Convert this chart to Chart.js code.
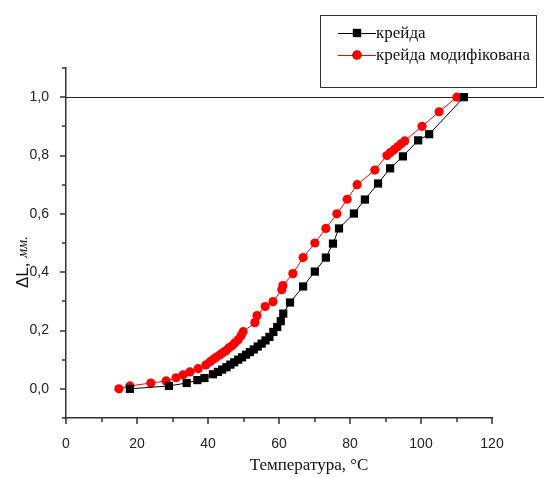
<!DOCTYPE html>
<html>
<head>
<meta charset="utf-8">
<script src="https://cdn.jsdelivr.net/npm/chart.js@4/dist/chart.umd.min.js"></script>
<style>
  html, body { margin: 0; padding: 0; background: #fff; }
  #wrap { width: 544px; height: 477px; }
</style>
</head>
<body>
<div id="wrap"><canvas id="chart" width="544" height="477"></canvas></div>
<script>
// крейда
const kreidaT = [18, 29, 34, 37, 39, 41.4, 42.8, 44, 45.2, 46.3, 47.4, 48.5, 49.6, 50.7, 51.8, 52.9, 54, 55.1, 56.2, 57.3, 58.4, 59.5, 60.5, 61.2, 63.1, 66.8, 70.1, 73.2, 75.2, 76.9, 81.1, 84.2, 87.9, 91.3, 94.9, 99.2, 102.3, 112.1];
const kreidaDL = [0.0, 0.01, 0.02, 0.03, 0.037, 0.05, 0.058, 0.066, 0.074, 0.083, 0.091, 0.1, 0.108, 0.117, 0.126, 0.135, 0.145, 0.155, 0.166, 0.178, 0.195, 0.212, 0.232, 0.258, 0.296, 0.351, 0.402, 0.45, 0.498, 0.55, 0.601, 0.649, 0.704, 0.756, 0.797, 0.852, 0.873, 1.0];
// крейда модифікована
const modT = [14.9, 18, 23.9, 28.2, 31, 33, 34.9, 37.2, 39.4, 40.6, 41.7, 42.5, 43.4, 44.2, 45.1, 45.9, 46.8, 47.6, 48.5, 49.3, 49.9, 53.2, 53.8, 56.1, 58.3, 60.8, 61.1, 63.9, 66.8, 70.1, 73.2, 76.3, 79.2, 82, 87, 90.4, 91.4, 92.4, 93.4, 94.4, 95.4, 100.3, 105.1, 110.1];
const modDL = [0.0, 0.01, 0.02, 0.027, 0.038, 0.048, 0.058, 0.069, 0.082, 0.093, 0.103, 0.11, 0.117, 0.124, 0.131, 0.141, 0.148, 0.158, 0.168, 0.182, 0.196, 0.227, 0.251, 0.282, 0.299, 0.34, 0.354, 0.395, 0.45, 0.5, 0.55, 0.6, 0.65, 0.7, 0.75, 0.8, 0.81, 0.82, 0.83, 0.84, 0.85, 0.9, 0.95, 1.0];

const xTicksLabelled = [0, 20, 40, 60, 80, 100, 120];
const yTicksLabelled = [0.0, 0.2, 0.4, 0.6, 0.8, 1.0];
const seriesNames = ['крейда', 'крейда модифікована'];
const refValue = 1.0;

const toPoints = (xs, ys) => xs.map((x, i) => ({ x: x, y: ys[i] }));

const tickFont = { family: 'Liberation Sans, Arial, sans-serif', size: 14 };

// horizontal line at 1,0 running to the edge of the picture
const refLine = {
  id: 'refLine',
  beforeDatasetsDraw(chart) {
    const ctx = chart.ctx;
    const y = chart.scales.y.getPixelForValue(refValue);
    ctx.save();
    ctx.strokeStyle = '#222';
    ctx.lineWidth = 1;
    ctx.beginPath();
    ctx.moveTo(chart.chartArea.left, Math.round(y) + 0.5);
    ctx.lineTo(chart.width, Math.round(y) + 0.5);
    ctx.stroke();
    ctx.restore();
  }
};

// outward ticks, long on labelled values, short in between
const axisTicks = {
  id: 'axisTicks',
  afterDraw(chart) {
    const ctx = chart.ctx;
    const xs = chart.scales.x, ys = chart.scales.y;
    ctx.save();
    ctx.strokeStyle = '#333';
    ctx.lineWidth = 1.5;
    ctx.beginPath();
    xs.ticks.forEach(t => {
      const px = Math.round(xs.getPixelForValue(t.value));
      const major = xTicksLabelled.some(v => Math.abs(v - t.value) < 1e-6);
      ctx.moveTo(px, xs.top);
      ctx.lineTo(px, xs.top + (major ? 6 : 4));
    });
    ys.ticks.forEach(t => {
      const py = Math.round(ys.getPixelForValue(t.value));
      const major = yTicksLabelled.some(v => Math.abs(v - t.value) < 1e-6);
      ctx.moveTo(ys.right, py);
      ctx.lineTo(ys.right - (major ? 6 : 4), py);
    });
    ctx.stroke();
    ctx.restore();
  }
};

// axis titles and boxed legend
const titlesLegend = {
  id: 'titlesLegend',
  afterDraw(chart) {
    const ctx = chart.ctx;
    const area = chart.chartArea;
    ctx.save();
    ctx.fillStyle = '#111';
    ctx.textBaseline = 'middle';

    // x title
    ctx.font = '17px "Liberation Serif", "Times New Roman", serif';
    ctx.textAlign = 'center';
    ctx.fillText('Температура, °C', area.left + 243, 466);

    // y title: ΔL, мм.
    ctx.save();
    ctx.translate(23, 288);
    ctx.rotate(-Math.PI / 2);
    ctx.textAlign = 'left';
    ctx.font = '17px "Liberation Sans", Arial, sans-serif';
    const part1 = 'ΔL, ';
    ctx.fillText(part1, 0, 0);
    const w1 = ctx.measureText(part1).width;
    ctx.font = 'italic 14px "Liberation Serif", "Times New Roman", serif';
    ctx.fillText('мм.', w1, 0);
    ctx.restore();

    // legend box
    const bx = 320, by = 15, bw = 216, bh = 72;
    ctx.strokeStyle = '#333';
    ctx.lineWidth = 1;
    ctx.strokeRect(bx + 0.5, by + 0.5, bw, bh);
    ctx.font = '17px "Liberation Serif", "Times New Roman", serif';
    ctx.textAlign = 'left';
    chart.data.datasets.forEach((ds, i) => {
      const ly = by + 18 + i * 22;
      ctx.strokeStyle = ds.borderColor;
      ctx.lineWidth = 1;
      ctx.beginPath();
      ctx.moveTo(bx + 18, ly + 0.5);
      ctx.lineTo(bx + 56, ly + 0.5);
      ctx.stroke();
      Chart.helpers.drawPoint(ctx, {
        pointStyle: ds.pointStyle, radius: ds.pointRadius, borderWidth: 0
      }, bx + 37, ly);
      ctx.fillStyle = ds.pointBackgroundColor;
      ctx.fill();
      ctx.fillStyle = '#111';
      ctx.fillText(ds.label, bx + 56, ly + 1);
    });
    ctx.restore();
  }
};

const ctx = document.getElementById('chart').getContext('2d');
new Chart(ctx, {
  type: 'scatter',
  data: {
    datasets: [
      {
        label: seriesNames[0],
        data: toPoints(kreidaT, kreidaDL),
        showLine: true,
        borderColor: '#000',
        borderWidth: 1,
        backgroundColor: '#000',
        pointBackgroundColor: '#000',
        pointBorderWidth: 0,
        pointStyle: 'rect',
        pointRadius: 5.8,
        pointHoverRadius: 5.8
      },
      {
        label: seriesNames[1],
        data: toPoints(modT, modDL),
        showLine: true,
        borderColor: '#ff0000',
        borderWidth: 1,
        backgroundColor: '#ff0000',
        pointBackgroundColor: '#ff0000',
        pointBorderWidth: 0,
        pointStyle: 'circle',
        pointRadius: 4.6,
        pointHoverRadius: 4.6
      }
    ]
  },
  options: {
    responsive: false,
    animation: false,
    layout: { padding: { top: 68, right: 52, bottom: 0, left: 0 } },
    plugins: {
      legend: { display: false },
      tooltip: { enabled: false }
    },
    scales: {
      x: {
        type: 'linear',
        min: 0,
        max: 120,
        afterFit: s => { s.height = 59; },
        grid: { display: false },
        border: { display: true, color: '#333', width: 1.5 },
        ticks: {
          stepSize: 10,
          padding: 10,
          color: '#222',
          font: tickFont,
          maxRotation: 0,
          autoSkip: false,
          callback: v => xTicksLabelled.includes(v) ? String(v) : ''
        }
      },
      y: {
        type: 'linear',
        min: -0.1,
        max: 1.1,
        afterFit: s => { s.width = 66; },
        grid: { display: false },
        border: { display: true, color: '#333', width: 1.5 },
        ticks: {
          stepSize: 0.1,
          padding: 9,
          color: '#222',
          font: tickFont,
          autoSkip: false,
          callback: v => {
            const r = Math.round(v * 10) / 10;
            return yTicksLabelled.some(t => Math.abs(t - r) < 1e-6) ? r.toFixed(1).replace('.', ',') : '';
          }
        }
      }
    }
  },
  plugins: [refLine, axisTicks, titlesLegend]
});
</script>
</body>
</html>
